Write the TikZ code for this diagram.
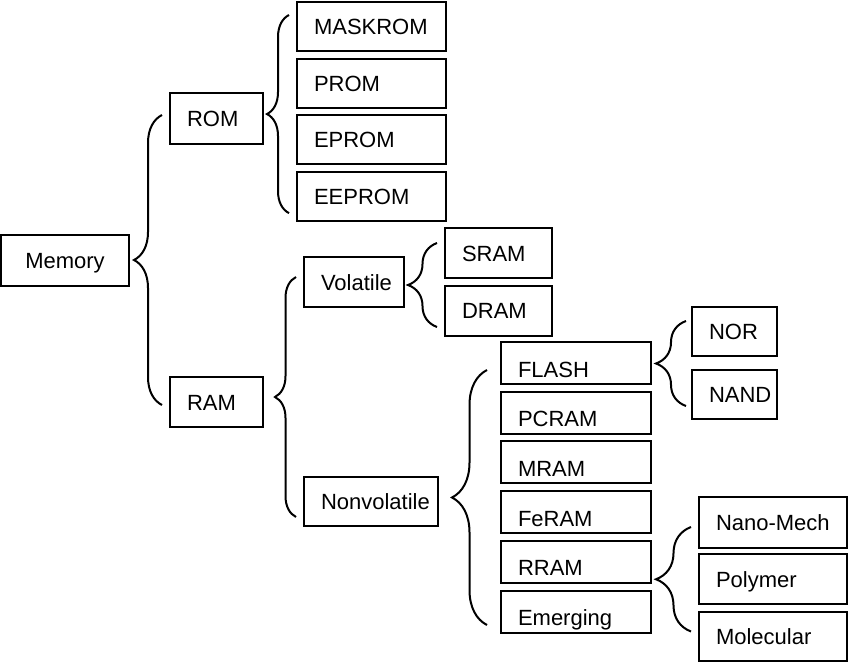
\documentclass[tikz,border=0pt]{standalone}
\usepackage{fontspec}
\setmainfont{Liberation Sans}
\usepackage{tikz}
\usetikzlibrary{positioning, decorations.pathreplacing}
\hyphenpenalty=10000
\exhyphenpenalty=10000
\hfuzz=100pt

\begin{document}
\begin{tikzpicture}[x=1pt, y=-1pt, line width=2pt,
    box/.style={draw, fill=white, inner ysep=0pt, inner xsep=17pt, align=left,
        text height=16pt, text depth=0pt, font=\fontsize{22}{26}\selectfont},
    lowbox/.style={box, minimum height=42pt, text height=28pt},
    curly/.style={decorate, decoration={brace, amplitude=#1}}]
    \useasboundingbox (0,0) rectangle (850,664);

    % first levels
    \node [box, text width=94pt, align=center, minimum height=51pt] (memory) at (65,260.5) {Memory};
    \node [box, text width=59pt, minimum height=51pt] (rom) at (216.5,118.5) {ROM};
    \node [box, text width=59pt, minimum height=50pt] (ram) at (216.5,402) {RAM};

    % ROM types
    \node [box, text width=115pt, minimum height=49pt] (maskrom) at (371.5,26.5) {MASKROM};
    \node [box, text width=115pt, minimum height=49pt, below=5.7pt of maskrom] (prom) {PROM};
    \node [box, text width=115pt, minimum height=49pt, below=5.7pt of prom] (eprom) {EPROM};
    \node [box, text width=115pt, minimum height=49pt, below=5.7pt of eprom] (eeprom) {EEPROM};

    % RAM types
    \node [box, text width=66pt, minimum height=50pt] (volatile) at (354,282) {Volatile};
    \node [box, text width=100pt, minimum height=49pt] (nonvolatile) at (371,501.5) {Nonvolatile};
    \node [box, text width=73pt, minimum height=50pt] (sram) at (498.5,253) {SRAM};
    \node [box, text width=73pt, minimum height=50pt, below=5.5pt of sram] (dram) {DRAM};

    % nonvolatile types
    \node [lowbox, text width=116pt] (flash) at (576,363) {FLASH};
    \node [lowbox, text width=116pt, below=5.7pt of flash] (pcram) {PCRAM};
    \node [lowbox, text width=116pt, below=5.7pt of pcram] (mram) {MRAM};
    \node [lowbox, text width=116pt, below=5.7pt of mram] (feram) {FeRAM};
    \node [lowbox, text width=116pt, below=5.7pt of feram] (rram) {RRAM};
    \node [lowbox, text width=116pt, below=5.7pt of rram] (emerging) {Emerging};

    \node [box, text width=51pt, minimum height=49pt] (nor) at (734.5,331.5) {NOR};
    \node [box, text width=51pt, minimum height=49pt, below=12pt of nor] (nand) {NAND};

    \node [box, text width=114pt, minimum height=51pt] (nanomech) at (773,522.5) {Nano-Mech};
    \node [box, text width=114pt, minimum height=50pt, below=4pt of nanomech] (polymer) {Polymer};
    \node [box, text width=114pt, minimum height=49pt, below=6pt of polymer] (molecular) {Molecular};

    % braces
    \draw [curly=28pt] ([shift={(-7,3)}]ram.west) -- ([shift={(-7,-3.5)}]rom.west);
    \draw [curly=22pt] ([shift={(-7,16.5)}]eeprom.west) -- ([shift={(-7,-11.5)}]maskrom.west);
    \draw [curly=21pt] ([shift={(-7,15.5)}]nonvolatile.west) -- ([shift={(-7,-5)}]volatile.west);
    \draw [curly=29pt] ([shift={(-7,16.5)}]dram.west) -- ([shift={(-7,-10)}]sram.west);
    \draw [curly=35pt] ([shift={(-13,13.5)}]emerging.west) -- ([shift={(-13,7)}]flash.west);
    \draw [curly=30pt] ([shift={(-5,11.5)}]nand.west) -- ([shift={(-5,-10.5)}]nor.west);
    \draw [curly=35pt] ([shift={(-7,-5)}]molecular.west) -- ([shift={(-7,4.5)}]nanomech.west);
\end{tikzpicture}
\end{document}
